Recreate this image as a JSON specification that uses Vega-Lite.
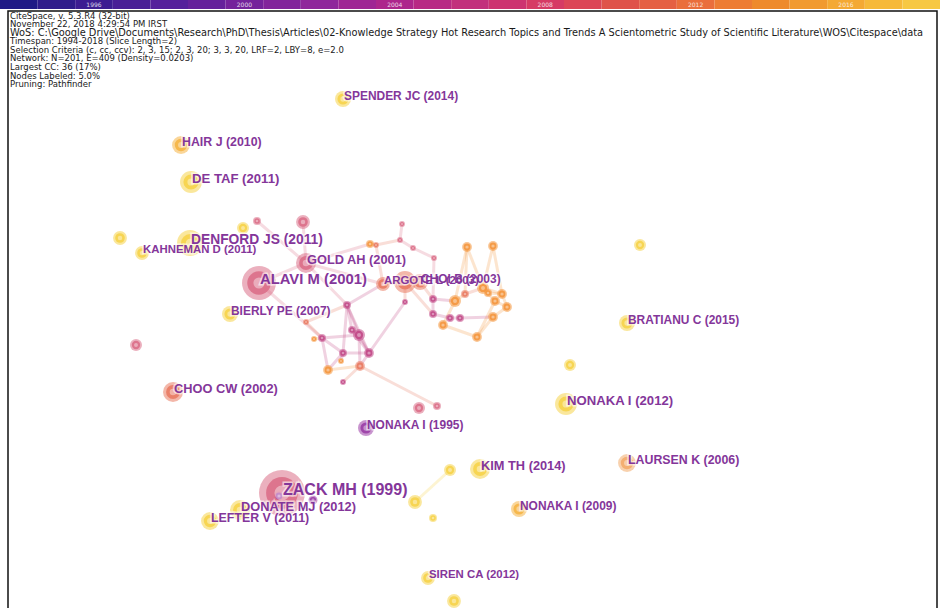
{
  "$schema": "https://vega.github.io/schema/vega-lite/v6.json",
  "padding": 0,
  "spacing": 0,
  "background": "white",
  "config": {"view": {"stroke": null}, "concat": {"spacing": 0}},
  "datasets": {
    "slices": [
      {"year": 1994, "tick": false}, {"year": 1995, "tick": false}, {"year": 1996, "tick": true}, {"year": 1997, "tick": false},
      {"year": 1998, "tick": false}, {"year": 1999, "tick": false}, {"year": 2000, "tick": true}, {"year": 2001, "tick": false},
      {"year": 2002, "tick": false}, {"year": 2003, "tick": false}, {"year": 2004, "tick": true}, {"year": 2005, "tick": false},
      {"year": 2006, "tick": false}, {"year": 2007, "tick": false}, {"year": 2008, "tick": true}, {"year": 2009, "tick": false},
      {"year": 2010, "tick": false}, {"year": 2011, "tick": false}, {"year": 2012, "tick": true}, {"year": 2013, "tick": false},
      {"year": 2014, "tick": false}, {"year": 2015, "tick": false}, {"year": 2016, "tick": true}, {"year": 2017, "tick": false},
      {"year": 2018, "tick": false}
    ],
    "frame": [{"x0": 8, "x1": 937, "y0": 11, "y1": 612}],
    "header": [
      {"part": "top", "x": 10, "y": 18.5, "text": "CiteSpace, v. 5.3.R4 (32-bit)\nNovember 22, 2018 4:29:54 PM IRST"},
      {"part": "wos", "x": 10, "y": 35.7, "text": "WoS: C:\\Google Drive\\Documents\\Research\\PhD\\Thesis\\Articles\\02-Knowledge Strategy Hot Research Topics and Trends A Scientometric Study of Scientific Literature\\WOS\\Citespace\\data"},
      {"part": "rest", "x": 10, "y": 44.3, "text": "Timespan: 1994-2018 (Slice Length=2)\nSelection Criteria (c, cc, ccv): 2, 3, 15; 2, 3, 20; 3, 3, 20, LRF=2, LBY=8, e=2.0\nNetwork: N=201, E=409 (Density=0.0203)\nLargest CC: 36 (17%)\nNodes Labeled: 5.0%\nPruning: Pathfinder"}
    ],
    "nodes": [
      {"id": "n1", "x": 343, "y": 99, "freq": 16, "slice": "2011", "label": "SPENDER JC (2014)"},
      {"id": "n2", "x": 181, "y": 145, "freq": 20, "slice": "2009", "label": "HAIR J (2010)"},
      {"id": "n3", "x": 191, "y": 182, "freq": 30, "slice": "2011", "label": "DE TAF (2011)"},
      {"id": "n4", "x": 190, "y": 243, "freq": 42, "slice": "2011", "label": "DENFORD JS (2011)"},
      {"id": "n5", "x": 142, "y": 253, "freq": 12, "slice": "2011", "label": "KAHNEMAN D (2011)"},
      {"id": "n6", "x": 306, "y": 263, "freq": 25, "slice": "2001", "label": "GOLD AH (2001)"},
      {"id": "n7", "x": 259, "y": 283, "freq": 72, "slice": "2001", "label": "ALAVI M (2001)"},
      {"id": "n8", "x": 383, "y": 284, "freq": 12, "slice": "2003", "label": "ARGOTE L (2003)"},
      {"id": "n9", "x": 420, "y": 282, "freq": 16, "slice": "2003", "label": "CHOI B (2003)"},
      {"id": "n10", "x": 230, "y": 314, "freq": 16, "slice": "2011", "label": "BIERLY PE (2007)"},
      {"id": "n11", "x": 627, "y": 323, "freq": 16, "slice": "2011", "label": "BRATIANU C (2015)"},
      {"id": "n12", "x": 173, "y": 392, "freq": 25, "slice": "2003", "label": "CHOO CW (2002)"},
      {"id": "n13", "x": 366, "y": 428, "freq": 16, "slice": "1995", "label": "NONAKA I (1995)"},
      {"id": "n14", "x": 566, "y": 404, "freq": 30, "slice": "2011", "label": "NONAKA I (2012)"},
      {"id": "n15", "x": 480, "y": 469, "freq": 25, "slice": "2011", "label": "KIM TH (2014)"},
      {"id": "n16", "x": 627, "y": 463, "freq": 20, "slice": "2007", "label": "LAURSEN K (2006)"},
      {"id": "n17", "x": 282, "y": 493, "freq": 132, "slice": "2001", "label": "ZACK MH (1999)"},
      {"id": "n18", "x": 240, "y": 510, "freq": 25, "slice": "2011", "label": "DONATE MJ (2012)"},
      {"id": "n19", "x": 210, "y": 521, "freq": 20, "slice": "2011", "label": "LEFTER V (2011)"},
      {"id": "n20", "x": 519, "y": 509, "freq": 16, "slice": "2009", "label": "NONAKA I (2009)"},
      {"id": "n21", "x": 428, "y": 578, "freq": 12, "slice": "2011", "label": "SIREN CA (2012)"},
      {"id": "u1", "x": 120, "y": 238, "freq": 12, "slice": "2011"},
      {"id": "u2", "x": 243, "y": 228, "freq": 9, "slice": "2011"},
      {"id": "u3", "x": 257, "y": 221, "freq": 4, "slice": "2001"},
      {"id": "u4", "x": 303, "y": 222, "freq": 12, "slice": "2001"},
      {"id": "u5", "x": 640, "y": 245, "freq": 9, "slice": "2011"},
      {"id": "u6", "x": 136, "y": 345, "freq": 9, "slice": "2001"},
      {"id": "u7", "x": 570, "y": 365, "freq": 9, "slice": "2011"},
      {"id": "u8", "x": 454, "y": 601, "freq": 12, "slice": "2011"},
      {"id": "u9", "x": 433, "y": 518, "freq": 4, "slice": "2011"},
      {"id": "u10", "x": 450, "y": 470, "freq": 9, "slice": "2011"},
      {"id": "u11", "x": 415, "y": 502, "freq": 12, "slice": "2011"},
      {"id": "u12", "x": 419, "y": 408, "freq": 9, "slice": "2001"},
      {"id": "u13", "x": 437, "y": 406, "freq": 4, "slice": "2001"},
      {"id": "u14", "x": 313, "y": 500, "freq": 5, "slice": "1995"},
      {"id": "u15", "x": 279, "y": 496, "freq": 6, "slice": "1995"},
      {"id": "u16", "x": 405, "y": 282, "freq": 30, "slice": "2003"},
      {"id": "c1", "x": 347, "y": 305, "freq": 4, "slice": "1999"},
      {"id": "c2", "x": 306, "y": 322, "freq": 2.25, "slice": "2003"},
      {"id": "c3", "x": 314, "y": 339, "freq": 2.25, "slice": "2005"},
      {"id": "c4", "x": 322, "y": 338, "freq": 4, "slice": "1999"},
      {"id": "c5", "x": 352, "y": 330, "freq": 4, "slice": "1999"},
      {"id": "c6", "x": 359, "y": 335, "freq": 9, "slice": "1999"},
      {"id": "c7", "x": 343, "y": 353, "freq": 4, "slice": "1999"},
      {"id": "c8", "x": 369, "y": 353, "freq": 6, "slice": "1999"},
      {"id": "c9", "x": 341, "y": 361, "freq": 2.25, "slice": "2005"},
      {"id": "c10", "x": 328, "y": 370, "freq": 6, "slice": "2005"},
      {"id": "c11", "x": 360, "y": 366, "freq": 6, "slice": "2003"},
      {"id": "c12", "x": 343, "y": 382, "freq": 2.25, "slice": "1999"},
      {"id": "c13", "x": 405, "y": 302, "freq": 2.25, "slice": "1999"},
      {"id": "m1", "x": 370, "y": 244, "freq": 4, "slice": "2005"},
      {"id": "m2", "x": 376, "y": 245, "freq": 2.25, "slice": "2003"},
      {"id": "m3", "x": 400, "y": 240, "freq": 2.25, "slice": "2001"},
      {"id": "m4", "x": 402, "y": 224, "freq": 2.25, "slice": "2001"},
      {"id": "m5", "x": 413, "y": 248, "freq": 2.25, "slice": "2001"},
      {"id": "m6", "x": 434, "y": 258, "freq": 2.25, "slice": "2001"},
      {"id": "o1", "x": 467, "y": 247, "freq": 6, "slice": "2005"},
      {"id": "o2", "x": 493, "y": 246, "freq": 6, "slice": "2005"},
      {"id": "o3", "x": 433, "y": 299, "freq": 4, "slice": "1999"},
      {"id": "o4", "x": 433, "y": 314, "freq": 4, "slice": "1999"},
      {"id": "o5", "x": 450, "y": 318, "freq": 4, "slice": "1999"},
      {"id": "o6", "x": 460, "y": 318, "freq": 4, "slice": "1999"},
      {"id": "o7", "x": 443, "y": 325, "freq": 6, "slice": "2005"},
      {"id": "o8", "x": 455, "y": 301, "freq": 9, "slice": "2005"},
      {"id": "o9", "x": 465, "y": 294, "freq": 4, "slice": "2003"},
      {"id": "o10", "x": 483, "y": 288, "freq": 9, "slice": "2005"},
      {"id": "o11", "x": 488, "y": 293, "freq": 4, "slice": "2005"},
      {"id": "o12", "x": 495, "y": 301, "freq": 6, "slice": "2005"},
      {"id": "o13", "x": 502, "y": 294, "freq": 6, "slice": "2005"},
      {"id": "o14", "x": 507, "y": 307, "freq": 6, "slice": "2005"},
      {"id": "o15", "x": 493, "y": 317, "freq": 6, "slice": "2005"},
      {"id": "o16", "x": 477, "y": 337, "freq": 6, "slice": "2005"}
    ],
    "edges": [
      {"s": "n7", "t": "n6"}, {"s": "n6", "t": "u4"}, {"s": "u3", "t": "n6"}, {"s": "n7", "t": "c4"}, {"s": "n6", "t": "c1"},
      {"s": "n6", "t": "n8"}, {"s": "n6", "t": "m1"}, {"s": "m1", "t": "m2"}, {"s": "m2", "t": "m3"}, {"s": "m3", "t": "m4"},
      {"s": "m3", "t": "m5"}, {"s": "m5", "t": "m6"}, {"s": "m2", "t": "n8"}, {"s": "n8", "t": "u16"}, {"s": "u16", "t": "n9"},
      {"s": "u16", "t": "c13"}, {"s": "n9", "t": "o3"}, {"s": "u16", "t": "o4"}, {"s": "c1", "t": "c5"}, {"s": "c1", "t": "c6"},
      {"s": "c1", "t": "c7"}, {"s": "c1", "t": "c8"}, {"s": "c1", "t": "n8"}, {"s": "c4", "t": "c6"}, {"s": "c4", "t": "c7"},
      {"s": "c3", "t": "c4"}, {"s": "c2", "t": "c4"}, {"s": "c5", "t": "c6"}, {"s": "c6", "t": "c8"}, {"s": "c7", "t": "c8"},
      {"s": "c7", "t": "c9"}, {"s": "c7", "t": "c10"}, {"s": "c8", "t": "c11"}, {"s": "c11", "t": "c12"}, {"s": "c10", "t": "c11"},
      {"s": "c6", "t": "c11"}, {"s": "c11", "t": "u13"}, {"s": "c8", "t": "c13"}, {"s": "m6", "t": "o3"}, {"s": "c4", "t": "c10"},
      {"s": "c5", "t": "c8"}, {"s": "c2", "t": "c1"},
      {"s": "o1", "t": "o10"}, {"s": "o2", "t": "o10"}, {"s": "o1", "t": "o8"}, {"s": "o10", "t": "o12"}, {"s": "o10", "t": "o13"},
      {"s": "o12", "t": "o14"}, {"s": "o13", "t": "o14"}, {"s": "o15", "t": "o16"}, {"s": "o12", "t": "o16"}, {"s": "o8", "t": "o7"},
      {"s": "o3", "t": "o8"}, {"s": "o4", "t": "o5"}, {"s": "o5", "t": "o6"}, {"s": "o6", "t": "o15"}, {"s": "o9", "t": "o10"},
      {"s": "o11", "t": "o13"}, {"s": "o3", "t": "o4"}, {"s": "o8", "t": "o9"}, {"s": "o7", "t": "o16"}, {"s": "o1", "t": "o9"},
      {"s": "o2", "t": "o13"}, {"s": "o14", "t": "o15"},
      {"s": "u11", "t": "u10"}
    ]
  },
  "vconcat": [
    {
      "width": 940,
      "height": 9,
      "layer": [
        {
          "data": {"name": "slices"},
          "mark": {"type": "rect"},
          "encoding": {
            "x": {"field": "year", "type": "ordinal", "scale": {"paddingInner": 0, "paddingOuter": 0}, "axis": null},
            "fill": {"field": "year", "type": "quantitative", "scale": {"domain": [1994, 1998, 2002, 2006, 2010, 2014, 2018], "range": ["#1f1a86", "#55209b", "#8f279b", "#c2307c", "#df534a", "#ee8a2c", "#f7c843"]}, "legend": null}
          }
        },
        {
          "data": {"name": "slices"},
          "transform": [{"filter": "datum.tick"}],
          "mark": {"type": "text", "fill": "white", "fontSize": 6, "font": "DejaVu Sans", "opacity": 0.8},
          "encoding": {
            "x": {"field": "year", "type": "ordinal", "axis": null},
            "text": {"field": "year", "type": "nominal"}
          }
        }
      ]
    },
    {
      "width": 940,
      "height": 599,
      "resolve": {"scale": {"size": "independent"}},
      "layer": [
        {
          "data": {"name": "frame"},
          "mark": {"type": "rect", "fillOpacity": 0, "stroke": "#111111", "strokeWidth": 1.5},
          "encoding": {
            "x": {"field": "x0", "type": "quantitative", "scale": {"domain": [0, 940], "nice": false, "zero": false}, "axis": null},
            "x2": {"field": "x1"},
            "y": {"field": "y0", "type": "quantitative", "scale": {"domain": [9, 608], "nice": false, "zero": false, "reverse": true}, "axis": null},
            "y2": {"field": "y1"}
          }
        },
        {
          "data": {"name": "edges"},
          "transform": [
            {"lookup": "s", "from": {"data": {"name": "nodes"}, "key": "id", "fields": ["x", "y", "slice"]}, "as": ["sx", "sy", "slice"]},
            {"lookup": "t", "from": {"data": {"name": "nodes"}, "key": "id", "fields": ["x", "y"]}, "as": ["tx", "ty"]}
          ],
          "mark": {"type": "rule", "strokeWidth": 3, "opacity": 0.25, "strokeCap": "round"},
          "encoding": {
            "x": {"field": "sx", "type": "quantitative", "scale": {"domain": [0, 940], "nice": false, "zero": false}, "axis": null},
            "y": {"field": "sy", "type": "quantitative", "scale": {"domain": [9, 608], "nice": false, "zero": false, "reverse": true}, "axis": null},
            "x2": {"field": "tx"},
            "y2": {"field": "ty"},
            "color": {"field": "slice", "type": "nominal", "scale": {"domain": ["1995", "1999", "2001", "2003", "2005", "2007", "2009", "2011"], "range": ["#9a3da6", "#c24a88", "#db6f88", "#e97b63", "#f4973f", "#f3ab6a", "#f5b545", "#f6d34a"]}, "legend": null}
          }
        },
        {
          "data": {"name": "nodes"},
          "mark": {"type": "circle", "opacity": 0.55},
          "encoding": {
            "x": {"field": "x", "type": "quantitative", "scale": {"domain": [0, 940], "nice": false, "zero": false}, "axis": null},
            "y": {"field": "y", "type": "quantitative", "scale": {"domain": [9, 608], "nice": false, "zero": false, "reverse": true}, "axis": null},
            "size": {"field": "freq", "type": "quantitative", "scale": {"domain": [0, 150], "range": [0, 2400]}, "legend": null},
            "color": {"field": "slice", "type": "nominal", "legend": null}
          }
        },
        {
          "data": {"name": "nodes"},
          "mark": {"type": "circle", "opacity": 0.9},
          "encoding": {
            "x": {"field": "x", "type": "quantitative", "axis": null},
            "y": {"field": "y", "type": "quantitative", "axis": null},
            "size": {"field": "freq", "type": "quantitative", "scale": {"domain": [0, 150], "range": [0, 1150]}, "legend": null},
            "color": {"field": "slice", "type": "nominal", "legend": null}
          }
        },
        {
          "data": {"name": "nodes"},
          "mark": {"type": "circle", "opacity": 0.4, "color": "white"},
          "encoding": {
            "x": {"field": "x", "type": "quantitative", "axis": null},
            "y": {"field": "y", "type": "quantitative", "axis": null},
            "size": {"field": "freq", "type": "quantitative", "scale": {"domain": [0, 150], "range": [0, 260]}, "legend": null}
          }
        },
        {
          "data": {"name": "nodes"},
          "transform": [{"filter": "isValid(datum.label)"}],
          "mark": {"type": "text", "align": "left", "baseline": "middle", "dx": 1, "dy": -3, "font": "Liberation Sans", "fontWeight": "bold", "fill": "white", "stroke": "white", "strokeWidth": 3, "opacity": 0.6},
          "encoding": {
            "x": {"field": "x", "type": "quantitative", "axis": null},
            "y": {"field": "y", "type": "quantitative", "axis": null},
            "text": {"field": "label", "type": "nominal"},
            "size": {"field": "freq", "type": "quantitative", "scale": {"type": "log", "domain": [12, 132], "range": [11.4, 16]}, "legend": null}
          }
        },
        {
          "data": {"name": "nodes"},
          "transform": [{"filter": "isValid(datum.label)"}],
          "mark": {"type": "text", "align": "left", "baseline": "middle", "dx": 1, "dy": -3, "font": "Liberation Sans", "fontWeight": "bold", "fill": "#84369a"},
          "encoding": {
            "x": {"field": "x", "type": "quantitative", "axis": null},
            "y": {"field": "y", "type": "quantitative", "axis": null},
            "text": {"field": "label", "type": "nominal"},
            "size": {"field": "freq", "type": "quantitative", "scale": {"type": "log", "domain": [12, 132], "range": [11.4, 16]}, "legend": null}
          }
        },
        {
          "data": {"name": "header"},
          "transform": [{"filter": "datum.part != 'wos'"}],
          "mark": {"type": "text", "align": "left", "baseline": "alphabetic", "lineBreak": "\n", "lineHeight": 8.6, "font": "DejaVu Sans", "fontSize": 8.5, "fill": "#1a1a1a"},
          "encoding": {
            "x": {"field": "x", "type": "quantitative", "axis": null},
            "y": {"field": "y", "type": "quantitative", "axis": null},
            "text": {"field": "text", "type": "nominal"}
          }
        },
        {
          "data": {"name": "header"},
          "transform": [{"filter": "datum.part == 'wos'"}],
          "mark": {"type": "text", "align": "left", "baseline": "alphabetic", "font": "DejaVu Sans", "fontSize": 9.8, "fill": "#1a1a1a"},
          "encoding": {
            "x": {"field": "x", "type": "quantitative", "axis": null},
            "y": {"field": "y", "type": "quantitative", "axis": null},
            "text": {"field": "text", "type": "nominal"}
          }
        }
      ]
    }
  ],
  "resolve": {"scale": {"color": "independent", "fill": "independent", "size": "independent", "x": "independent", "y": "independent"}}
}
